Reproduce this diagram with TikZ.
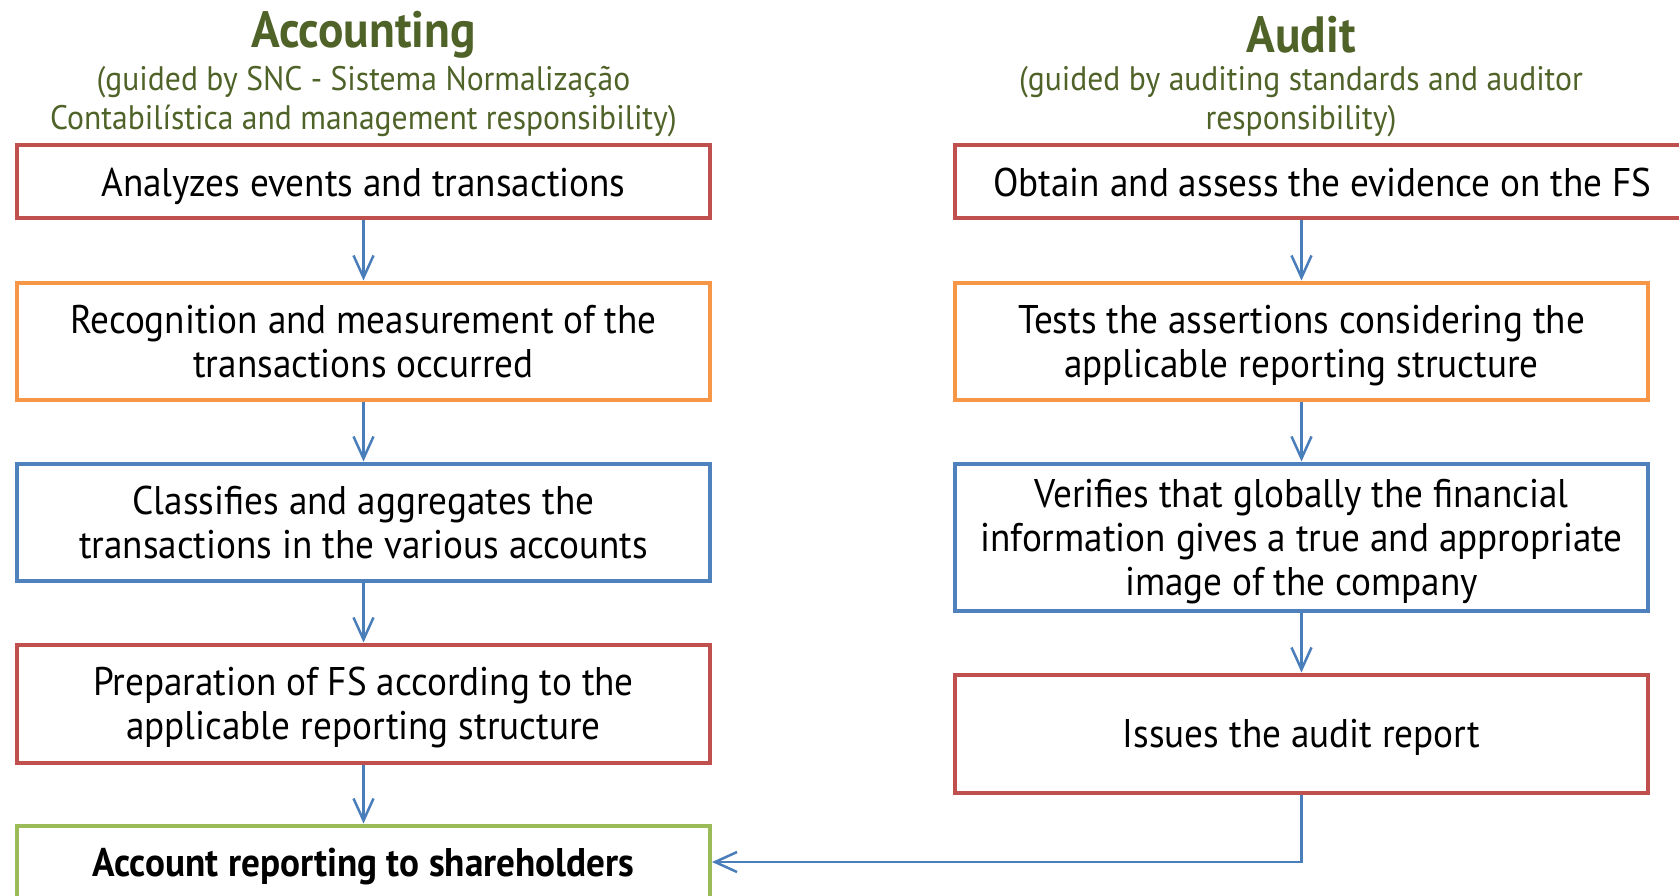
\documentclass[tikz,border=0pt]{standalone}
\usepackage{fontspec}
\setmainfont[FakeStretch=0.93]{PT Sans}
\usetikzlibrary{arrows.meta, positioning}
\definecolor{titlegreen}{RGB}{79,98,40}
\definecolor{boxred}{RGB}{192,80,77}
\definecolor{boxorange}{RGB}{247,150,70}
\definecolor{boxblue}{RGB}{79,129,189}
\definecolor{boxgreen}{RGB}{155,187,89}
\definecolor{arrowblue}{RGB}{74,126,187}

\begin{document}
\begin{tikzpicture}[
    x=1pt, y=-1pt,
    stepbox/.style={rectangle, draw, line width=4pt, fill=white, minimum width=693pt, inner sep=0pt, text depth=0pt, align=center, font=\fontsize{40}{44}\selectfont},
    redbox/.style={stepbox, draw=boxred},
    orangebox/.style={stepbox, draw=boxorange},
    bluebox/.style={stepbox, draw=boxblue},
    greenbox/.style={stepbox, draw=boxgreen},
    heading/.style={text=titlegreen, font=\fontsize{51}{60}\selectfont\bfseries},
    subheading/.style={text=titlegreen, align=center, font=\fontsize{34}{39}\selectfont},
    arrow/.style={->, >={Straight Barb[length=22pt, width=20pt]}, line width=2.5pt, draw=arrowblue},
    node distance=60pt
]
    \useasboundingbox (0,0) rectangle (1679,896);

    % Accounting column
    \node[heading] (acchead) at (363.5,35) {Accounting};
    \node[subheading] (accsub) at (363.5,102) {(guided by SNC - Sistema Normalização\\Contabilística and management responsibility)};

    \node[redbox, minimum height=73pt] (acc1) at (363.5,182) {Analyzes events and transactions};
    \node[orangebox, minimum height=117pt, below=of acc1] (acc2) {Recognition and measurement of the\\transactions occurred};
    \node[bluebox, minimum height=117pt, below=of acc2] (acc3) {Classifies and aggregates the\\transactions in the various accounts};
    \node[redbox, minimum height=118pt, below=of acc3] (acc4) {Preparation of FS according to the\\applicable reporting structure};
    \node[greenbox, minimum height=73pt, below=59pt of acc4, font=\fontsize{40}{44}\selectfont\bfseries] (acc5) {Account reporting to shareholders};

    % Audit column
    \node[heading] (audhead) at (1301,35) {Audit};
    \node[subheading] (audsub) at (1301,102) {(guided by auditing standards and auditor\\responsibility)};

    \node[redbox, minimum width=735pt, minimum height=73pt, anchor=west] (aud1) at (953,182) {Obtain and assess the evidence on the FS};
    \node[orangebox, minimum height=117pt, below=of aud1.south west, anchor=north west] (aud2) {Tests the assertions considering the\\applicable reporting structure};
    \node[bluebox, minimum height=147pt, below=of aud2] (aud3) {Verifies that globally the financial\\information gives a true and appropriate\\image of the company};
    \node[redbox, minimum height=118pt, below=of aud3] (aud4) {Issues the audit report};

    % Connectors
    \draw[arrow] (acc1) -- (acc2);
    \draw[arrow] (acc2) -- (acc3);
    \draw[arrow] (acc3) -- (acc4);
    \draw[arrow] (acc4) -- (acc5);
    \draw[arrow] (aud2.north |- aud1.south) -- (aud2);
    \draw[arrow] (aud2) -- (aud3);
    \draw[arrow] (aud3) -- (aud4);
    \draw[arrow] (aud4.south) |- (acc5.east);

\end{tikzpicture}
\end{document}
